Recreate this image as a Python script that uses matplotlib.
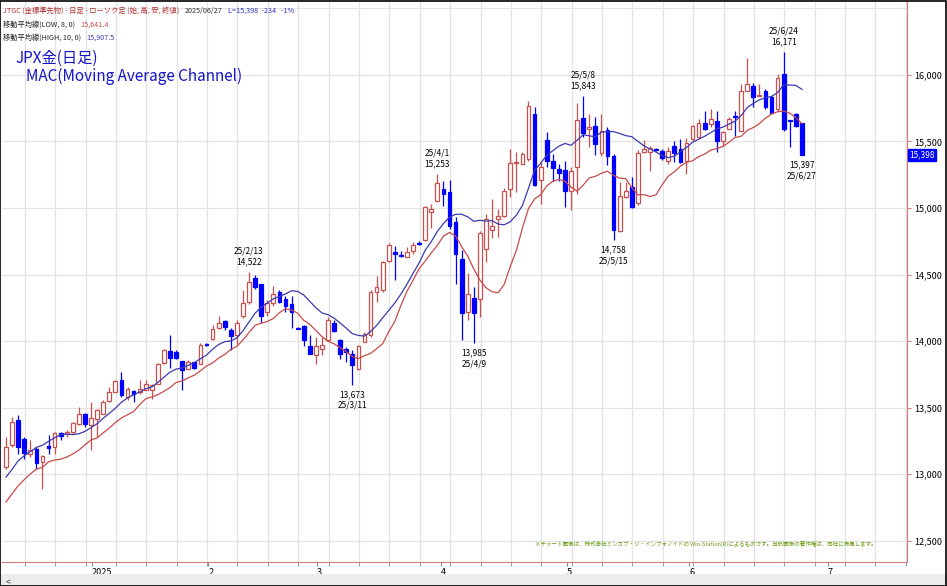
import matplotlib

matplotlib.use("Agg")

import matplotlib.pyplot as plt
import numpy as np
import pandas as pd
from matplotlib.patches import Rectangle
from matplotlib.text import Annotation

plt.rcParams["font.family"] = ["Noto Sans CJK JP", "DejaVu Sans"]

# daily candles, Dec 2024 .. 2025/06/27 (JPX gold standard futures)
OPEN = [13055, 13217, 13405, 13267, 13155, 13192, 13092, 13210, 13205, 13310,
        13300, 13317, 13375, 13455, 13367, 13417, 13455, 13550, 13617, 13705,
        13580, 13625, 13617, 13635, 13635, 13675, 13835, 13925, 13917, 13850,
        13792, 13842, 13830, 13975, 14017, 14100, 14147, 14085, 14042, 14185,
        14292, 14475, 14425, 14217, 14285, 14367, 14317, 14275, 14100, 14110,
        13960, 13892, 13942, 14010, 14135, 14010, 13942, 13905, 13792, 13992,
        14042, 14367, 14385, 14605, 14667, 14645, 14635, 14675, 14735, 14760,
        14967, 15055, 15142, 15117, 14892, 14617, 14217, 14325, 14317, 14692,
        14835, 14917, 14942, 15142, 15335, 15330, 15367, 15705, 15210, 15510,
        15355, 15292, 15285, 15130, 15305, 15675, 15592, 15617, 15410, 15585,
        15392, 14830, 15080, 15155, 15035, 15417, 15417, 15442, 15430, 15350,
        15467, 15442, 15355, 15517, 15530, 15642, 15630, 15650, 15505, 15592,
        15692, 15580, 15880, 15917, 15842, 15880, 15830, 15742, 16010, 15655,
        15705, 15635]
HIGH = [13280, 13430, 13442, 13280, 13255, 13205, 13142, 13292, 13317, 13317,
        13330, 13392, 13505, 13460, 13542, 13492, 13555, 13655, 13705, 13767,
        13655, 13630, 13705, 13710, 13680, 13835, 13942, 14042, 13930, 13850,
        13855, 13842, 13985, 13985, 14117, 14192, 14155, 14100, 14155, 14385,
        14522, 14500, 14430, 14310, 14417, 14380, 14342, 14342, 14102, 14117,
        14042, 14030, 14030, 14180, 14155, 14017, 13955, 13930, 13967, 14067,
        14380, 14492, 14605, 14735, 14717, 14680, 14705, 14742, 14750, 15017,
        15030, 15253, 15205, 15210, 14930, 14685, 14510, 14405, 14830, 14955,
        15067, 14992, 15150, 15442, 15420, 15417, 15800, 15755, 15355, 15567,
        15405, 15330, 15355, 15310, 15792, 15843, 15705, 15685, 15705, 15605,
        15405, 15192, 15192, 15235, 15435, 15510, 15467, 15450, 15442, 15460,
        15505, 15517, 15525, 15625, 15667, 15730, 15742, 15725, 15580, 15685,
        15730, 15935, 16125, 15942, 15930, 15892, 15842, 16005, 16171, 15660,
        15710, 15635]
LOW = [13042, 13205, 13155, 13117, 13130, 13042, 12892, 13155, 13155, 13255,
       13280, 13305, 13367, 13355, 13185, 13280, 13455, 13542, 13617, 13580,
       13560, 13542, 13605, 13630, 13567, 13675, 13825, 13800, 13867, 13635,
       13792, 13792, 13830, 13960, 14010, 14092, 14085, 13935, 13980, 14175,
       14280, 14392, 14135, 14192, 14267, 14285, 14217, 14100, 14088, 13960,
       13900, 13825, 13892, 14005, 14067, 13867, 13842, 13673, 13780, 13992,
       14030, 14292, 14367, 14592, 14460, 14630, 14630, 14655, 14725, 14755,
       14850, 15050, 15017, 14842, 14425, 14010, 14155, 13985, 14180, 14592,
       14775, 14780, 14930, 15085, 15120, 15330, 15355, 15167, 15030, 15305,
       15205, 15205, 15005, 14985, 15105, 15535, 15460, 15400, 15392, 15325,
       14758, 14817, 15075, 14999, 15025, 15410, 15280, 15430, 15360, 15330,
       15342, 15335, 15255, 15505, 15525, 15585, 15605, 15417, 15467, 15592,
       15542, 15575, 15880, 15755, 15842, 15742, 15717, 15730, 15580, 15455,
       15610, 15397]
CLOSE = [13205, 13392, 13205, 13160, 13180, 13085, 13135, 13197, 13310, 13285,
         13317, 13385, 13455, 13375, 13425, 13485, 13542, 13617, 13700, 13592,
         13642, 13605, 13642, 13675, 13667, 13825, 13935, 13875, 13875, 13785,
         13842, 13800, 13967, 13970, 14092, 14135, 14105, 14035, 14135, 14285,
         14442, 14405, 14185, 14285, 14355, 14292, 14260, 14217, 14090, 14005,
         13905, 13960, 13967, 14155, 14075, 13905, 13917, 13817, 13960, 14055,
         14367, 14405, 14592, 14725, 14655, 14640, 14672, 14725, 14730, 15005,
         14992, 15185, 15105, 14867, 14655, 14210, 14350, 14210, 14810, 14917,
         14867, 14942, 15130, 15335, 15342, 15405, 15767, 15175, 15305, 15355,
         15300, 15260, 15125, 15280, 15660, 15560, 15610, 15480, 15580, 15392,
         14835, 15092, 15130, 15010, 15410, 15442, 15450, 15435, 15375, 15425,
         15410, 15342, 15485, 15617, 15635, 15592, 15667, 15500, 15567, 15667,
         15685, 15880, 15935, 15835, 15850, 15755, 15717, 15975, 15592, 15650,
         15617, 15398]

# highs/lows of the days before the visible range (moving average warm-up)
PRE_HIGH = [12850, 12800, 12900, 12950, 12880, 12980, 13000, 13050, 13090]
PRE_LOW = [12700, 12680, 12750, 12790, 12740, 12800, 12820]

MONTH_LABELS = ["2025", "2", "3", "4", "5", "6", "7"]
MONTH_POS = [14.1, 33.3, 51.2, 71.6, 92.3, 112.5, 135.3]

# (candle index, "high"/"low", date text)
MARKS = [(40, "high", "25/2/13"), (57, "low", "25/3/11"), (71, "high", "25/4/1"),
         (77, "low", "25/4/9"), (95, "high", "25/5/8"), (100, "low", "25/5/15"),
         (128, "high", "25/6/24"), (131, "low", "25/6/27")]

UP = "#c9504f"
DOWN = "#0000ff"


def main() -> None:
    o = np.array(OPEN, float)
    h = np.array(HIGH, float)
    lo = np.array(LOW, float)
    c = np.array(CLOSE, float)
    x = np.arange(len(c))

    ma_high = pd.Series(PRE_HIGH + HIGH).rolling(10).mean().to_numpy()[len(PRE_HIGH):]
    ma_low = pd.Series(PRE_LOW + LOW).rolling(8).mean().to_numpy()[len(PRE_LOW):]

    fig = plt.figure(figsize=(9.47, 5.86), dpi=100)
    ax = fig.add_axes([2 / 947, 24 / 586, 905 / 947, 561 / 586])
    ax.set_xlim(-0.66, 148.3)
    ax.set_ylim(12340, 16555)

    for y in range(12500, 16501, 500):
        ax.axhline(y, color="#e3e3e3", lw=0.9, zorder=0)
    grid_x = np.arange(3, 150, 5) + 0.1
    for gx in grid_x:
        ax.axvline(gx, color="#e3e3e3", lw=0.9, zorder=0)

    up = c >= o
    ax.vlines(x[up], lo[up], h[up], color=UP, lw=0.9, zorder=2)
    ax.vlines(x[~up], lo[~up], h[~up], color=DOWN, lw=0.9, zorder=2)
    body = np.maximum(np.abs(c - o), 8)
    ax.bar(x[up], body[up], bottom=np.minimum(o, c)[up], width=0.62,
           facecolor="white", edgecolor=UP, lw=0.9, zorder=3)
    ax.bar(x[~up], body[~up], bottom=np.minimum(o, c)[~up], width=0.62,
           facecolor=DOWN, edgecolor=DOWN, lw=0.9, zorder=3)

    ax.plot(x, ma_high, color="#3b3bb0", lw=0.9, zorder=4)
    ax.plot(x, ma_low, color="#c84a4a", lw=0.9, zorder=4)

    for idx, kind, date in MARKS:
        if kind == "high":
            ax.annotate(f"{date}\n{int(h[idx]):,}", (idx, h[idx]), xytext=(0, 4),
                        textcoords="offset points", ha="center", va="bottom",
                        fontsize=6, linespacing=1.25)
        else:
            ax.annotate(f"{int(lo[idx]):,}\n{date}", (idx, lo[idx]), xytext=(0, -4),
                        textcoords="offset points", ha="center", va="top",
                        fontsize=6, linespacing=1.25)

    for side in ("top", "left"):
        ax.spines[side].set_visible(False)
    ax.spines["right"].set_color("#d47a7a")
    ax.spines["bottom"].set_color("#d47a7a")
    ax.yaxis.tick_right()
    ax.set_yticks(range(12500, 16001, 500))
    ax.set_yticklabels([f"{v:,}" for v in range(12500, 16001, 500)], fontsize=6.5)
    ax.tick_params(axis="y", length=3, color="#d47a7a", pad=2)
    ax.set_xticks(grid_x, minor=True)
    ax.set_xticks(MONTH_POS)
    ax.set_xticklabels(MONTH_LABELS, fontsize=6.5, ha="left")
    ax.tick_params(axis="x", which="both", length=3, color="#888888", pad=1)

    ax.text(1.002, (c[-1] - 12340) / (16555 - 12340), f"{int(c[-1]):,}",
            transform=ax.transAxes, fontsize=6, color="white", va="center", ha="left",
            bbox=dict(boxstyle="square,pad=0.15", fc=DOWN, ec=DOWN))

    rows = [
        (0.978, [("JTGC (金標準先物) - 日足 - ローソク足 (始, 高, 安, 終値)", "#b03030"),
                 ("2025/06/27", "#333333"), ("L=15,398  -234   -1%", "#3030c0")]),
        (0.955, [("移動平均線(LOW, 8, 0)", "#222222"), ("15,641.4", "#c84a4a")]),
        (0.932, [("移動平均線(HIGH, 10, 0)", "#222222"), ("15,907.5", "#3b3bb0")]),
    ]
    for y, parts in rows:
        prev = fig.text(0.003, y, parts[0][0], fontsize=5.2, color=parts[0][1])
        for s, col in parts[1:]:
            prev = fig.add_artist(Annotation(
                s, xy=(1, 0), xycoords=prev, xytext=(4, 0), textcoords="offset points",
                fontsize=5.2, color=col, va="bottom", ha="left"))

    fig.text(0.016, 0.893, "JPX金(日足)", fontsize=11, color="#1515c8")
    fig.text(0.027, 0.862, "MAC(Moving Average Channel)", fontsize=11, color="#1515c8")

    fig.text(0.565, 0.068,
             "※チャート画像は、株式会社ミンカブ・ジ・インフォノイドの Win-Station(R)によるものです。"
             "当該画像の著作権は、同社に帰属します。", fontsize=4.0, color="#6a9a10")

    fig.patches.append(Rectangle((0, 0), 1, 12 / 586, transform=fig.transFigure,
                                 facecolor="#ececec", edgecolor="none"))
    fig.text(0.006, 0.002, "<", fontsize=6, color="#333333")
    fig.patches.append(Rectangle((0.0005, 0.0008), 0.998, 0.998, transform=fig.transFigure,
                                 facecolor="none", edgecolor="black", lw=1.2))

    fig.savefig("out.png", dpi=100)
    plt.close(fig)


if __name__ == "__main__":
    main()
